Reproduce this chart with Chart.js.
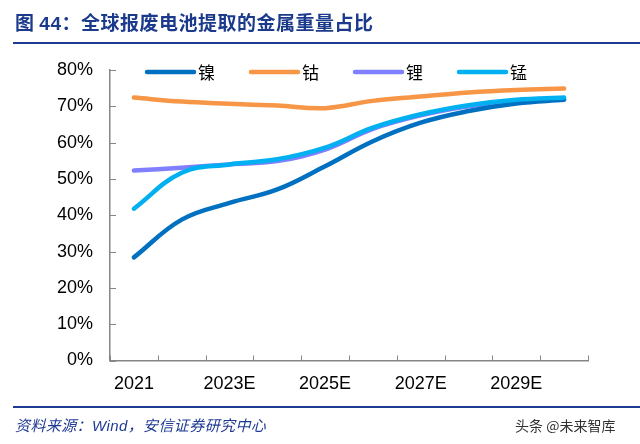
<!DOCTYPE html>
<html>
<head>
<meta charset="utf-8">
<script src="https://cdn.jsdelivr.net/npm/chart.js@4.4.1/dist/chart.umd.min.js"></script>
<style>
  html, body { margin: 0; padding: 0; background: #fff; }
  #wrap { position: relative; width: 640px; height: 444px; overflow: hidden; }
  #chart { position: absolute; left: 0; top: 0; }
  .title { position: absolute; left: 15px; top: 8px; font: bold 19px "Noto Sans CJK SC", sans-serif; color: #1b3a8c; letter-spacing: 0.5px; white-space: nowrap; }
  .rule { position: absolute; left: 13px; right: 0; height: 2px; background: #1f3a93; }
  .source { position: absolute; left: 15px; top: 414px; font: italic 15px "Noto Sans CJK SC", sans-serif; color: #1f3a93; letter-spacing: 0.4px; white-space: nowrap; }
  .source .en { font-family: "Liberation Sans", Arial, sans-serif; }
  .mark { position: absolute; left: 515px; top: 415px; font: 14px "Noto Sans CJK SC", sans-serif; color: #333; white-space: nowrap; }
</style>
</head>
<body>
<div id="wrap">
  <canvas id="chart" width="640" height="444"></canvas>
  <div class="title">图 <span style="font-family:'Liberation Sans',Arial,sans-serif">44</span>：全球报废电池提取的金属重量占比</div>
  <div class="rule" style="top:42px"></div>
  <div class="rule" style="top:406px"></div>
  <div class="source">资料来源：<span class="en">Wind</span>，安信证券研究中心</div>
  <div class="mark">头条 @未来智库</div>
</div>
<script>
// categories and series (percent)
const years = ['2021', '2022E', '2023E', '2024E', '2025E', '2026E', '2027E', '2028E', '2029E', '2030E'];
const seriesNames = ['镍', '钴', '锂', '锰'];
const nickel = [28.4, 38.8, 43.4, 47.1, 53.5, 60.4, 65.5, 68.7, 70.8, 71.8];
const cobalt = [72.4, 71.3, 70.7, 70.2, 69.5, 71.5, 72.7, 73.8, 74.5, 74.9];
const lithium = [52.3, 53.1, 54.0, 54.9, 58.1, 63.8, 67.5, 70.0, 71.5, 72.0];
const manganese = [41.8, 51.7, 54.0, 55.4, 58.6, 64.1, 67.8, 70.3, 71.8, 72.4];
const yTicks = [0, 10, 20, 30, 40, 50, 60, 70, 80];

const colors = ['#0070c0', '#f79646', '#7f7fff', '#00b0f0'];
const axisColor = '#868686';

function line(label, data, color, order) {
  return {
    label: label,
    data: data,
    borderColor: color,
    backgroundColor: color,
    borderWidth: 4.5,
    borderCapStyle: 'round',
    borderJoinStyle: 'round',
    pointRadius: 0,
    tension: 0.4,
    fill: false,
    order: order
  };
}

// small inward tick marks on both axes
const innerTicks = {
  id: 'innerTicks',
  afterDraw(chart) {
    const c = chart.ctx, a = chart.chartArea;
    const ys = chart.scales.y;
    c.save();
    c.strokeStyle = axisColor;
    c.lineWidth = 1;
    yTicks.forEach(v => {
      const y = Math.round(ys.getPixelForValue(v)) + 0.5;
      c.beginPath(); c.moveTo(a.left, y); c.lineTo(a.left + 6, y); c.stroke();
    });
    const step = (a.right - a.left) / years.length;
    for (let i = 0; i <= years.length; i++) {
      const x = Math.round(a.left + i * step) + 0.5;
      c.beginPath(); c.moveTo(x, a.bottom); c.lineTo(x, a.bottom - 5); c.stroke();
    }
    c.restore();
  }
};

// legend row inside the plot, top
const lineLegend = {
  id: 'lineLegend',
  afterDraw(chart) {
    const c = chart.ctx, a = chart.chartArea;
    c.save();
    c.font = '17px "Noto Sans CJK SC", sans-serif';
    c.textBaseline = 'middle';
    chart.data.datasets.forEach((ds, i) => {
      const x0 = a.left + 37 + i * 104;
      const y = 72;
      c.strokeStyle = ds.borderColor;
      c.lineWidth = 4.5;
      c.lineCap = 'round';
      c.beginPath(); c.moveTo(x0, y); c.lineTo(x0 + 47, y); c.stroke();
      c.fillStyle = '#000';
      c.fillText(ds.label, x0 + 51, y + 1);
    });
    c.restore();
  }
};

const tickFont = { family: '"Liberation Sans", Arial, sans-serif', size: 18 };

const ctx = document.getElementById('chart').getContext('2d');
const chart = new Chart(ctx, {
  type: 'line',
  data: {
    labels: years,
    datasets: [
      line(seriesNames[0], nickel, colors[0], 2),
      line(seriesNames[1], cobalt, colors[1], 1),
      line(seriesNames[2], lithium, colors[2], 3),
      line(seriesNames[3], manganese, colors[3], 0)
    ]
  },
  options: {
    responsive: false,
    animation: false,
    layout: { padding: { top: 70, right: 52, bottom: 0, left: 0 } },
    plugins: {
      legend: { display: false },
      tooltip: { enabled: false }
    },
    scales: {
      x: {
        offset: true,
        grid: { display: false, drawTicks: false },
        border: { color: axisColor, width: 1.5 },
        ticks: {
          autoSkip: false,
          maxRotation: 0,
          padding: 13,
          color: '#000',
          font: tickFont,
          callback: function(v, i) { return i % 2 === 0 ? years[i] : ''; }
        },
        afterFit(scale) { scale.height = 83.5; }
      },
      y: {
        min: 0,
        max: 80,
        grid: { display: false, drawTicks: false },
        border: { color: axisColor, width: 1.5 },
        ticks: {
          stepSize: 10,
          padding: 17,
          color: '#000',
          font: tickFont,
          callback: v => v + '%'
        },
        afterFit(scale) { scale.width = 110; }
      }
    }
  },
  plugins: [innerTicks, lineLegend]
});
</script>
</body>
</html>
